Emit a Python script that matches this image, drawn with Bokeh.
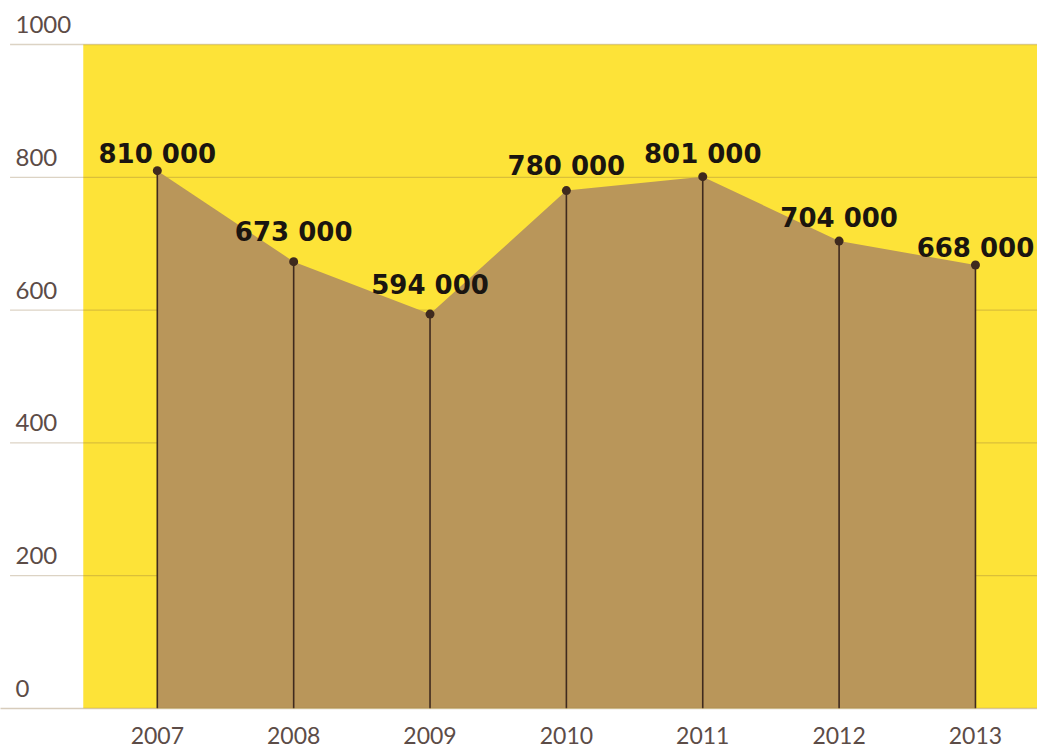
from bokeh.plotting import figure
from bokeh.models import ColumnDataSource, FixedTicker, Range1d
from bokeh.core.properties import value
from bokeh.embed import file_html
from bokeh.resources import INLINE

years = [2007, 2008, 2009, 2010, 2011, 2012, 2013]
values = [810, 673, 594, 780, 801, 704, 668]          # thousands
labels = ["810 000", "673 000", "594 000", "780 000", "801 000", "704 000", "668 000"]
label_dy = [-17, -30, -29, -25, -23, -23, -17]          # label lift above dot (px)
y_ticks = [0, 200, 400, 600, 800, 1000]

YELLOW = "#fde338"
BROWN = "#b9965a"
DARK = "#3f2a1e"
GRID = "#8c6e3c"
AXIS_TXT = "#5c4c47"

x0, x1 = 2005.85, 2013.455
p = figure(frame_width=1037, frame_height=708, output_backend="svg",
           toolbar_location=None, x_range=Range1d(x0, x1), y_range=Range1d(0, 1066.3),
           y_axis_location=None, min_border=0, min_border_bottom=40,
           background_fill_color="white", border_fill_color="white")
p.outline_line_color = None
p.xgrid.visible = False
p.ygrid.visible = False

# yellow plot panel
p.quad(left=[2006.457], right=[x1 + 1], bottom=[0], top=[1000], fill_color=YELLOW, line_color=None)

# gridlines (above the panel, below the area)
gl = [t for t in y_ticks if t > 0]
p.segment(x0=[x0 + 0.07] * len(gl), x1=[x1 + 1] * len(gl), y0=gl, y1=gl,
          line_color=GRID, line_alpha=0.3, line_width=1.3)

src = ColumnDataSource(dict(x=years, y=values, lab=labels, dy=label_dy, zero=[0] * len(years)))

# brown area
p.varea(x="x", y1="zero", y2="y", source=src, fill_color=BROWN)

# vertical drop lines and dots
p.segment(x0="x", y0="zero", x1="x", y1="y", source=src, line_color=DARK, line_width=1.6)
p.scatter(x="x", y="y", source=src, size=9, fill_color=DARK, line_color=None)

# value labels
p.text(x="x", y="y", text="lab", source=src, y_offset="dy", text_align="center",
       text_baseline="alphabetic", text_font=value("DejaVu Sans"), text_font_style="bold",
       text_font_size="26px", text_color="#1a1510")

# y tick labels inside the frame, above gridlines
p.text(x=[x0] * len(y_ticks), y=y_ticks, text=[str(t) for t in y_ticks], x_offset=15, y_offset=-20,
       text_align="left", text_baseline="alphabetic", text_font=value("Lato"),
       text_font_size="24px", text_color=AXIS_TXT)

ax = p.xaxis[0]
ax.ticker = FixedTicker(ticks=years)
ax.major_tick_line_color = None
ax.minor_tick_line_color = None
ax.axis_line_color = GRID
ax.axis_line_alpha = 0.35
ax.axis_line_width = 1.5
ax.major_label_standoff = 12
ax.major_label_text_font = "Lato"
ax.major_label_text_font_size = "23px"
ax.major_label_text_color = AXIS_TXT

open("out.html", "w").write(file_html(p, INLINE))
